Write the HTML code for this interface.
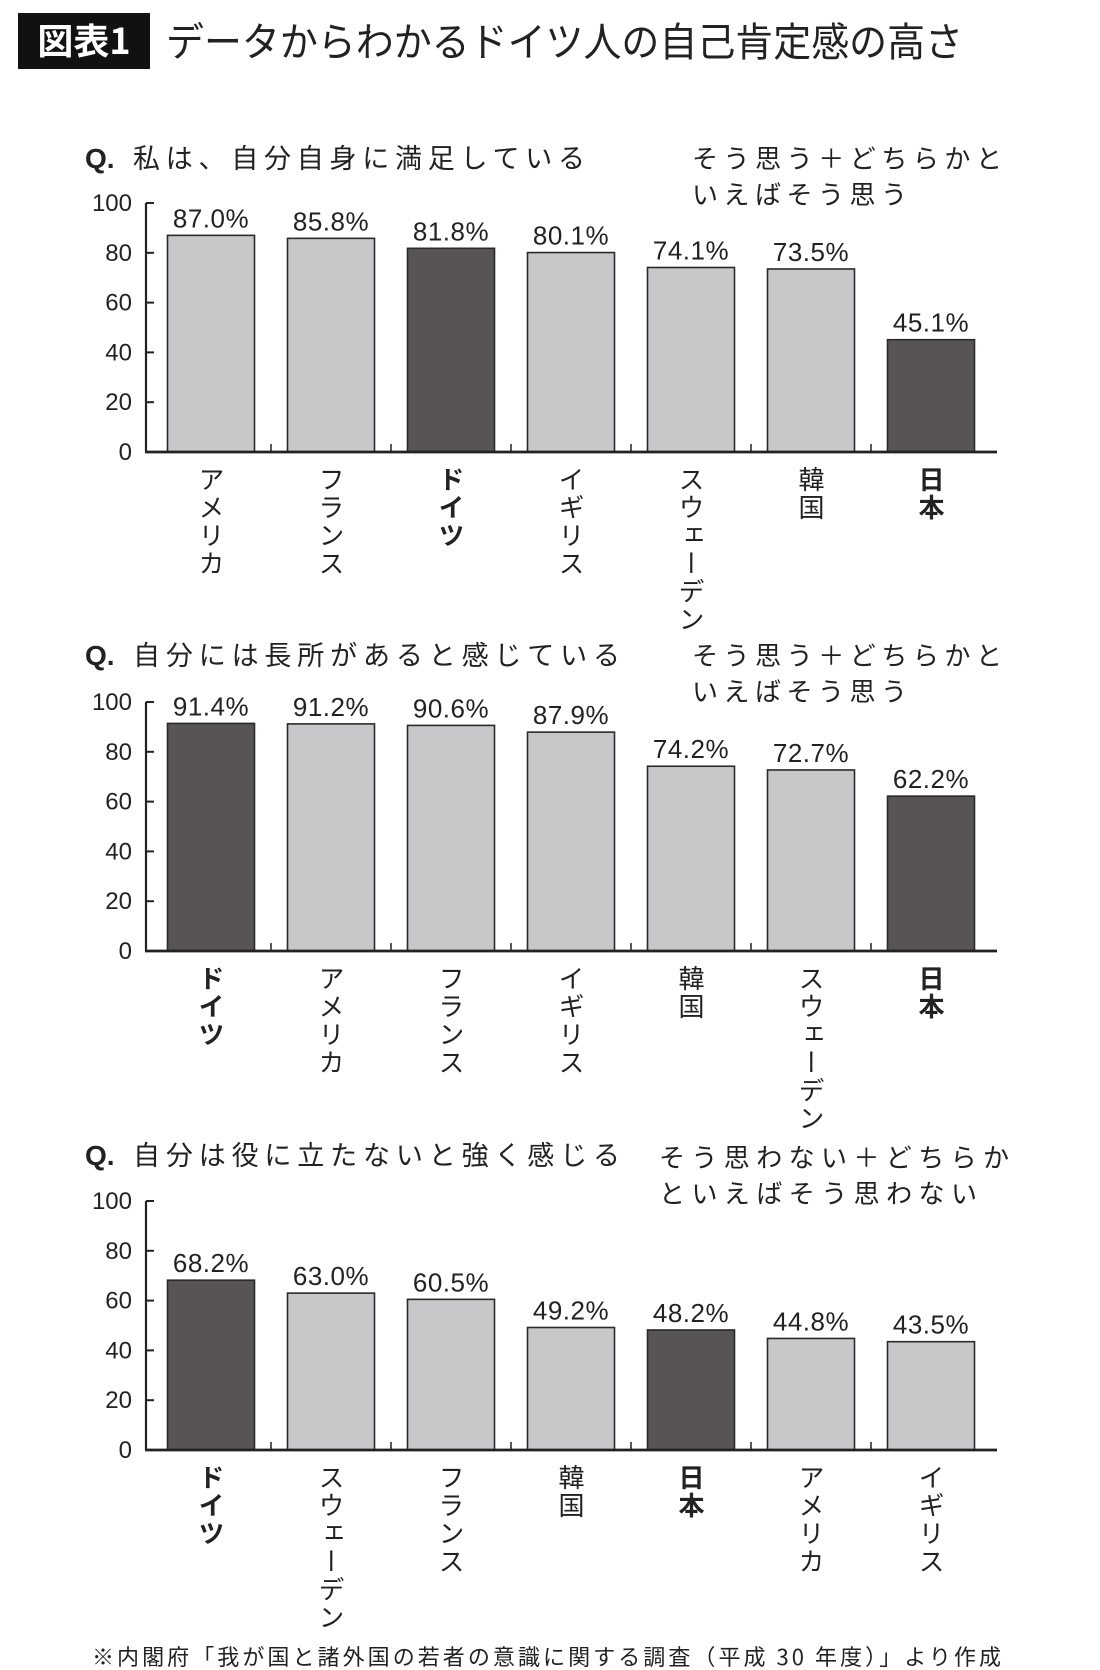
<!DOCTYPE html>
<html><head><meta charset="utf-8">
<style>
html,body{margin:0;padding:0;background:#fff;}
body{width:1100px;height:1670px;overflow:hidden;position:relative;font-family:"Liberation Sans","Noto Sans CJK JP",sans-serif;}
svg{position:absolute;left:0;top:0;}
.vt{writing-mode:vertical-rl;text-orientation:upright;}
</style></head>
<body>
<svg id="s" width="1100" height="1670" xmlns="http://www.w3.org/2000/svg"></svg>
<script>
const cats1=["アメリカ","フランス","ドイツ","イギリス","スウェーデン","韓国","日本"];
const vals1=[87.0,85.8,81.8,80.1,74.1,73.5,45.1];
const cats2=["ドイツ","アメリカ","フランス","イギリス","韓国","スウェーデン","日本"];
const vals2=[91.4,91.2,90.6,87.9,74.2,72.7,62.2];
const cats3=["ドイツ","スウェーデン","フランス","韓国","日本","アメリカ","イギリス"];
const vals3=[68.2,63.0,60.5,49.2,48.2,44.8,43.5];
const highlight=["ドイツ","日本"];
const yTicks=[0,20,40,60,80,100];
const questions=["私は、自分自身に満足している","自分には長所があると感じている","自分は役に立たないと強く感じる"];
const legends1=["そう思う＋どちらかと","いえばそう思う"];
const legends3=["そう思わない＋どちらか","といえばそう思わない"];

const NS="http://www.w3.org/2000/svg";
const svg=document.getElementById('s');
function mk(tag,attrs,parent,text){const e=document.createElementNS(NS,tag);for(const k in attrs)e.setAttribute(k,attrs[k]);if(text!==undefined)e.textContent=text;(parent||svg).appendChild(e);return e;}
const FONT='"Liberation Sans","Noto Sans CJK JP",sans-serif';
const JFONT='"Noto Sans CJK JP","Liberation Sans",sans-serif';

const tb=mk('rect',{x:18,y:13,width:132,height:56,fill:'#111'});


const tl=mk('text',{x:84,y:54,'text-anchor':'middle',fill:'#fff','font-size':36,'font-weight':'bold','font-family':JFONT},null,'図表1');


const tt=mk('text',{x:166,y:56,fill:'#222','font-size':40,textLength:797,lengthAdjust:'spacingAndGlyphs','font-family':JFONT},null,'データからわかるドイツ人の自己肯定感の高さ');



function chart(idx,cats,vals,y0,y100,qy,legend,lx,ly,qLen,lLens){
  const g=mk('g',{});
  
  
  const ax=146, axEnd=997, slot0=150, slotW=120, barW=87;
  const yS=v=>y0-(y0-y100)*(v/100);
  const q=mk('text',{x:85,y:qy+10,'font-size':28,'font-weight':'bold',fill:'#222','font-family':FONT},g,'Q.');
  
  
  const qt=mk('text',{x:133,y:qy+10,'font-size':27,textLength:qLen,lengthAdjust:'spacing',fill:'#222','font-family':JFONT},g,questions[idx]);
  
  
  legend.forEach((l,i)=>{
    const t=mk('text',{x:lx,y:ly+i*36+10,'font-size':26,textLength:lLens[i],lengthAdjust:'spacing',fill:'#222','font-family':JFONT},g,l);
    
    
  });
  yTicks.forEach(v=>{
    const y=yS(v);
    const tk=mk('line',{x1:ax,x2:ax+8,y1:y,y2:y,stroke:'#222','stroke-width':2},g);
    
    
    const t=mk('text',{x:132,y:y+8,'text-anchor':'end','font-size':24,fill:'#222','font-family':FONT},g,String(v));
    
    
  });
  cats.forEach((c,i)=>{
    const cx=slot0+slotW*i+slotW/2+1;
    const v=vals[i];
    const dark=highlight.includes(c);
    const b=mk('rect',{x:cx-barW/2,y:yS(v),width:barW,height:y0-yS(v),fill:dark?'#585455':'#c8c8ca',stroke:'#2a2a2a','stroke-width':1.6},g);
    
    
    const vl=mk('text',{x:cx,y:yS(v)-8,'text-anchor':'middle','font-size':26,'letter-spacing':'0.5',fill:'#222','font-family':FONT},g,v.toFixed(1)+'%');
    
    
    if(i>0){
      const bx=slot0+slotW*i+1;
      const ct=mk('line',{x1:bx,x2:bx,y1:y0,y2:y0-8,stroke:'#222','stroke-width':1.5},g);
      
      
    }
    const fo=mk('foreignObject',{x:cx-20,y:y0+14,width:40,height:220},g);
    const d=document.createElement('div');
    d.className='vt';
    d.style.cssText='font-family:'+JFONT+';font-size:26px;letter-spacing:2px;color:#222;line-height:40px;font-weight:'+(dark?'bold':'normal')+';';
    d.textContent=c;
    
    
    fo.appendChild(d);
  });
  const ya=mk('line',{x1:ax,x2:ax,y1:y100,y2:y0,stroke:'#222','stroke-width':2.2},g);
  
  
  const xa=mk('line',{x1:ax-1,x2:axEnd,y1:y0,y2:y0,stroke:'#222','stroke-width':2.8},g);
  
  
}
chart(0,cats1,vals1,452,203,158,legends1,692,158,452,[310,215]);
chart(1,cats2,vals2,951,702,655,legends1,692,655,487,[310,215]);
chart(2,cats3,vals3,1450,1201,1155,legends3,659,1157,487,[350,318]);

const ft=mk('text',{x:92,y:1665,'font-size':22,textLength:909,lengthAdjust:'spacing',fill:'#222','font-family':JFONT},null,'※内閣府「我が国と諸外国の若者の意識に関する調査（平成 30 年度）」より作成');


</script>
</body></html>
